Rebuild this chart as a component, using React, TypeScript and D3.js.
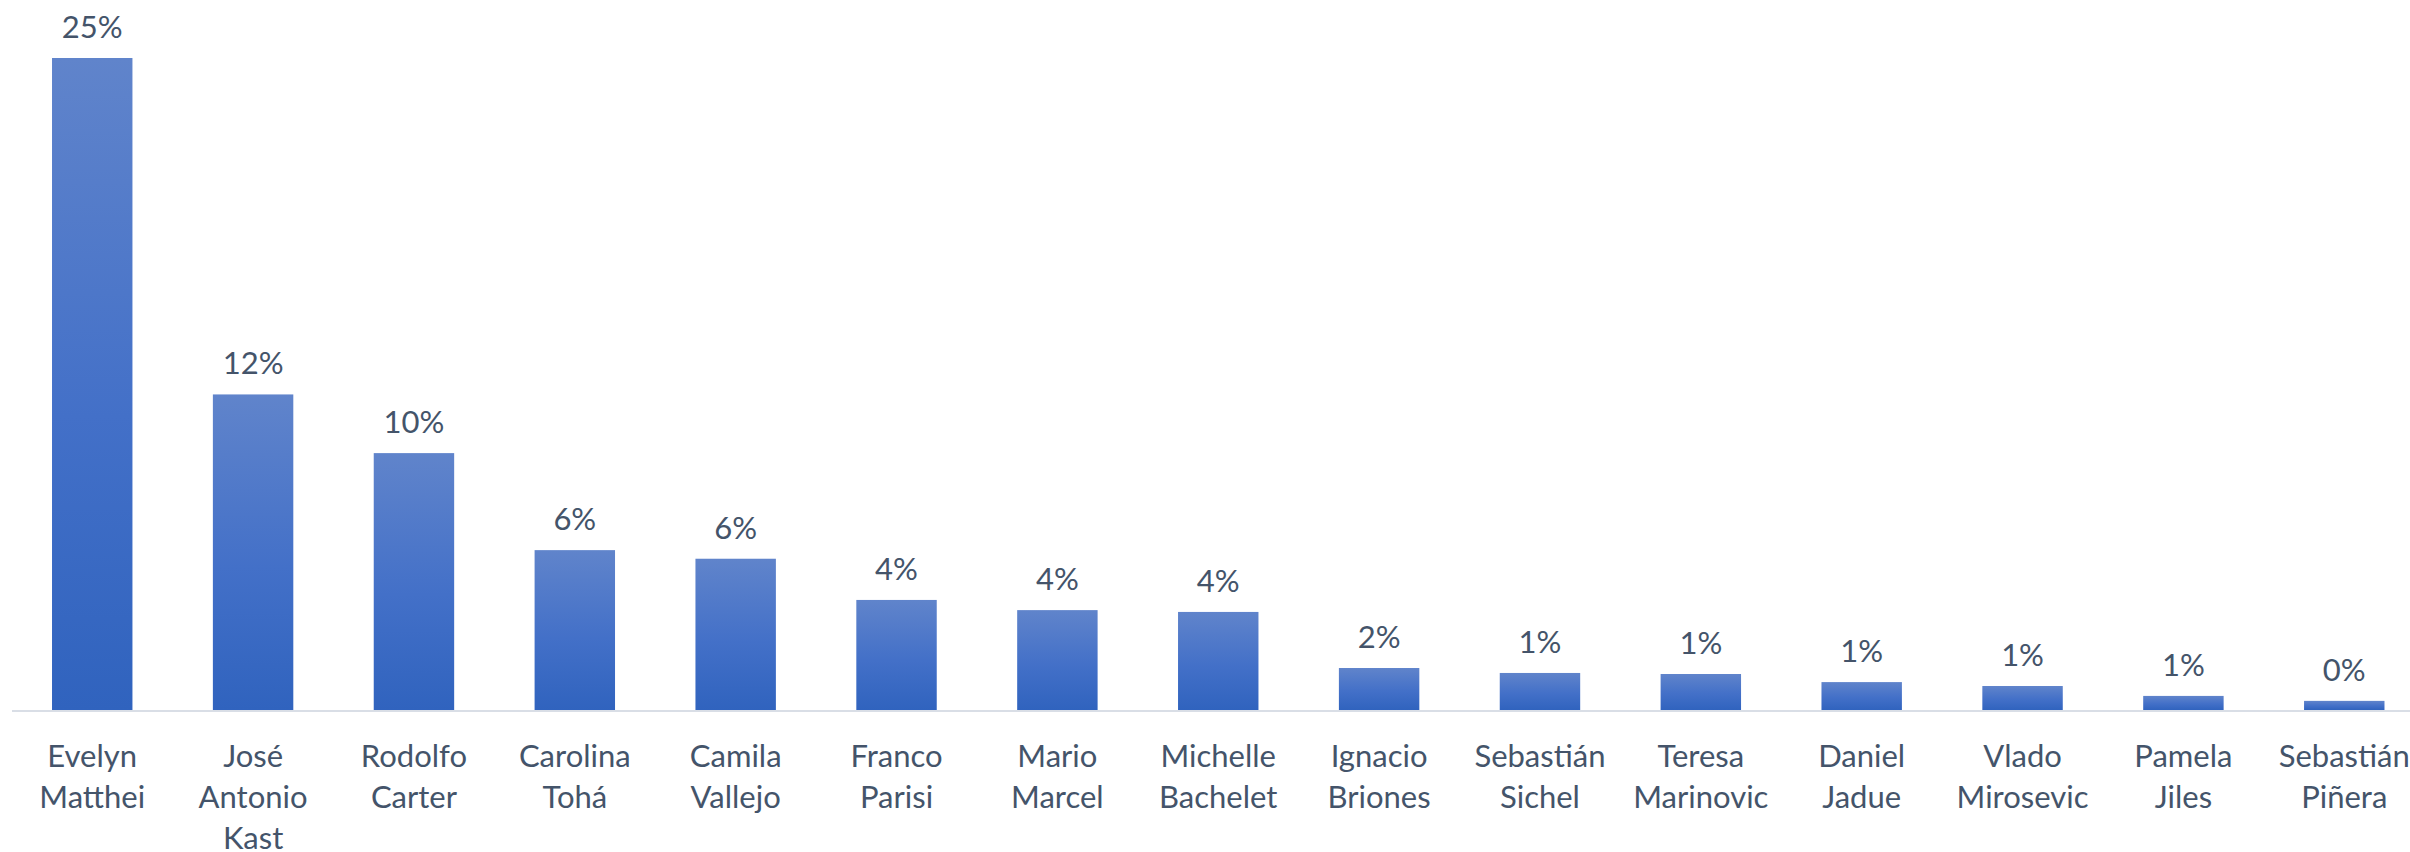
import React from "react";
import * as d3 from "d3";

const categories: string[] = [
  "Evelyn Matthei",
  "José Antonio Kast",
  "Rodolfo Carter",
  "Carolina Tohá",
  "Camila Vallejo",
  "Franco Parisi",
  "Mario Marcel",
  "Michelle Bachelet",
  "Ignacio Briones",
  "Sebastián Sichel",
  "Teresa Marinovic",
  "Daniel Jadue",
  "Vlado Mirosevic",
  "Pamela Jiles",
  "Sebastián Piñera",
];

const values: number[] = [
  0.25, 0.121, 0.0985, 0.0613, 0.058, 0.0422, 0.0383, 0.0376, 0.0161, 0.0142,
  0.0138, 0.0107, 0.0092, 0.0054, 0.0035,
];

const W = 2410;
const H = 852;
const FONT = "Lato, 'Open Sans', sans-serif";
const TEXT = "#44546A";

export default function App() {
  const x = d3
    .scaleBand<string>()
    .domain(categories)
    .range([11.8, 2424.7])
    .paddingInner(0.5)
    .paddingOuter(0.25);
  const y = d3.scaleLinear().domain([0, 0.25]).range([710, 58]);
  const fmt = d3.format(".0%");

  return (
    <svg
      width={W}
      height={H}
      style={{ position: "absolute", left: 0, top: 0, background: "#fff" }}
      fontFamily={FONT}
    >
      <defs>
        <linearGradient id="barGrad" x1="0" y1="0" x2="0" y2="1">
          <stop offset="0%" stopColor="#6084CB" />
          <stop offset="55%" stopColor="#4370C8" />
          <stop offset="100%" stopColor="#3063BE" />
        </linearGradient>
      </defs>
      <rect width={W} height={H} fill="#fff" />
      {categories.map((c, i) => {
        const x0 = x(c)!;
        const bw = x.bandwidth();
        const top = y(values[i]);
        return (
          <g key={c}>
            <rect
              x={x0}
              y={top}
              width={bw}
              height={y(0) - top}
              fill="url(#barGrad)"
            />
            <text
              x={x0 + bw / 2}
              y={top - 20}
              textAnchor="middle"
              fontSize={31}
              fill={TEXT}
            >
              {fmt(values[i])}
            </text>
            {c.split(" ").map((w, k) => (
              <text
                key={k}
                x={x0 + bw / 2}
                y={767 + k * 41}
                textAnchor="middle"
                fontSize={31}
                fill={TEXT}
              >
                {w}
              </text>
            ))}
          </g>
        );
      })}
      <line x1={12} x2={W} y1={711} y2={711} stroke="#D9DEE6" strokeWidth={2} />
    </svg>
  );
}
